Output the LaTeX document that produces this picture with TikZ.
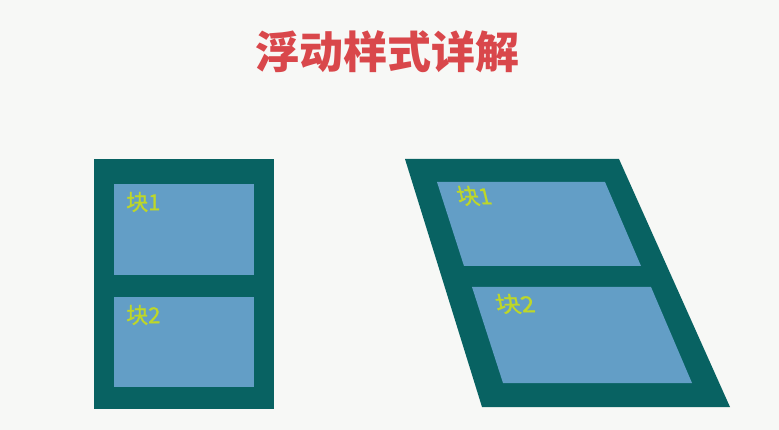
\documentclass[tikz,border=0pt]{standalone}
\usepackage{fontspec}
\newfontfamily\cjk{Noto Sans CJK SC}
\newfontfamily\cjkl[FakeBold=1]{Noto Sans CJK SC}
\usetikzlibrary{positioning}
\definecolor{bgc}{HTML}{F7F8F6}
\definecolor{frameteal}{HTML}{086262}
\definecolor{blockblue}{HTML}{639EC6}
\definecolor{lblgreen}{HTML}{BED728}
\definecolor{titlered}{HTML}{D9474B}
\tikzset{fr/.style={fill=frameteal,draw=none}}
\tikzset{blk/.style={fill=blockblue,draw=none}}
\tikzset{lb/.style={text=lblgreen,inner sep=0pt,font=\cjkl\fontsize{22}{22}\selectfont}}

\begin{document}
\begin{tikzpicture}[x=1pt,y=-1pt]
        \fill[bgc] (0,0) rectangle (779,430);
        \useasboundingbox (0,0) rectangle (779,430);
        \node[text=titlered,inner sep=0pt,font=\cjk\bfseries\fontsize{44}{44}\selectfont] (title) at (387,52) {浮动样式详解};
        % left: normal flow
        \node[fr,minimum width=180pt,minimum height=250pt,inner sep=0pt] (outer) at (184,284) {};
        \node[blk,minimum width=140pt,minimum height=91pt,inner sep=0pt] (b1) at (184,229.5) {};
        \node[blk,minimum width=140pt,minimum height=90pt,inner sep=0pt] (b2) at (184,342) {};
        \node[lb,anchor=west] (l1) at (126,202) {块1};
        \node[lb,anchor=west] (l2) at (126,315) {块2};
        % right: slanted
        \filldraw[fr] (405,159) -- (619,159) -- (730,407) -- (482,407) -- cycle;
        \filldraw[blk] (437,182) -- (605,182) -- (641,266) -- (464,266) -- cycle;
        \filldraw[blk] (472,287) -- (651,287) -- (692,383) -- (503,383) -- cycle;
        \begin{scope}[shift={(474,196)},xslant=-0.25]
          \node[lb,transform shape] (r1) {块1};
        \end{scope}
        \begin{scope}[shift={(515,304)},xslant=-0.2,xscale=1.15]
          \node[lb,transform shape] (r2) {块2};
        \end{scope}
      \end{tikzpicture}
\end{document}
